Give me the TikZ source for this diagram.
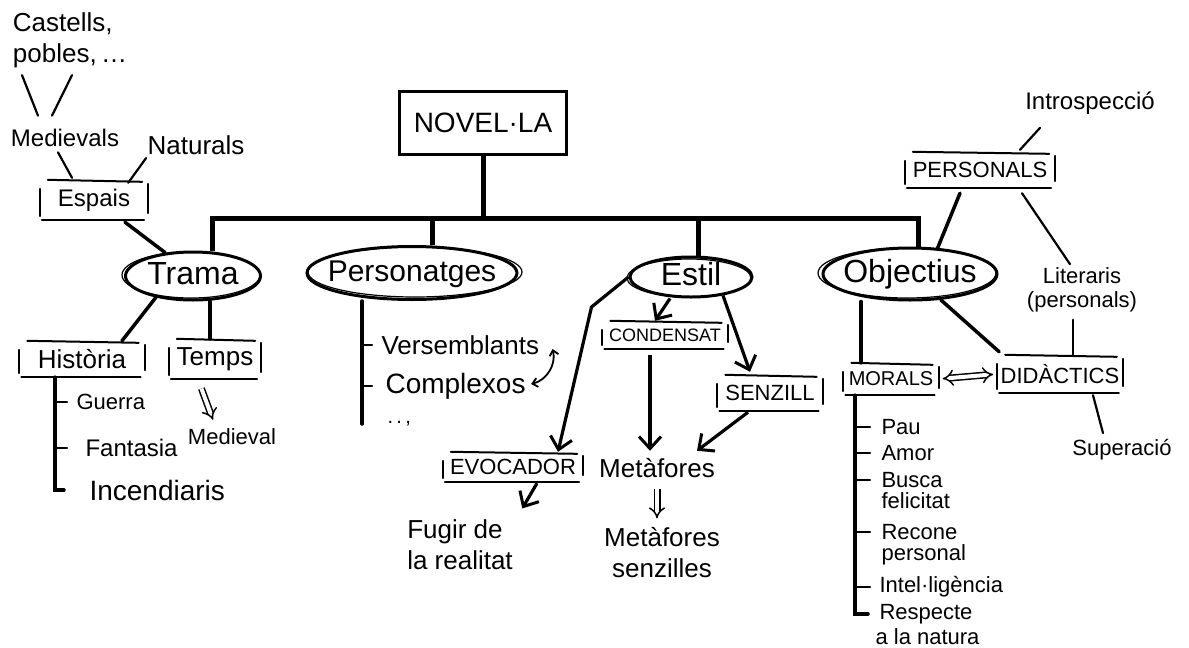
\documentclass[tikz,border=0pt]{standalone}
\usepackage{fontspec}
\setmainfont{Liberation Sans}
\usetikzlibrary{shapes.geometric,arrows.meta}
\pgfdeclarelayer{bg}
\pgfsetlayers{bg,main}
\newcommand\obox[1]{%
  \draw[boxline] ([shift={(8,0)}]#1.north west) -- ([shift={(-6,2)}]#1.north east);
  \draw[boxline] ([shift={(2,0)}]#1.south west) -- ([shift={(-4,0)}]#1.south east);
  \draw[boxline] ([shift={(0,9)}]#1.north west) -- ([shift={(0,-4)}]#1.south west);
  \draw[boxline] ([shift={(0,4)}]#1.north east) -- ([shift={(0,-7)}]#1.south east);}
\begin{document}
\begin{tikzpicture}[x=1pt,y=-1pt,
  f18/.style={font=\fontsize{18}{21}\selectfont},
  f20/.style={font=\fontsize{20}{23}\selectfont},
  f22/.style={font=\fontsize{22}{24}\selectfont},
  f24/.style={font=\fontsize{24}{29}\selectfont},
  f26/.style={font=\fontsize{26}{31}\selectfont},
  f28/.style={font=\fontsize{28}{32}\selectfont},
  f32/.style={font=\fontsize{32}{36}\selectfont, text height=23pt, text depth=6pt, inner sep=0pt},
  ell/.style={ellipse, draw, line width=3pt, fill=white, inner sep=0pt},
  sk/.style={line width=1.2pt},
  boxline/.style={line width=2pt, line cap=round},
  conn/.style={line width=2.2pt, line cap=round},
  thk/.style={line width=3.5pt, line cap=round},
  bar/.style={line width=5pt},
  arr/.style={line width=3.2pt, -{Straight Barb[length=12pt,width=22pt,line width=3pt]}},
  dbl/.style={double, double distance=4pt, line width=1.5pt, -{Implies}},
  dbl2/.style={double, double distance=4pt, line width=1.5pt, {Implies}-{Implies}}]
\useasboundingbox (0,0) rectangle (1189,648);

% ---------- top and ellipses ----------
\node[draw, line width=3.5pt, f28, minimum width=167pt, minimum height=63pt] (nov) at (483,123) {NOVEL·LA};
\node[ell, minimum width=135pt, minimum height=48pt] (trama) at (193,276) {};
\node[ell, minimum width=210pt, minimum height=53pt] (pers) at (412,273) {};
\node[ell, minimum width=122pt, minimum height=40pt] (estil) at (691,277) {};
\node[ell, minimum width=174pt, minimum height=52pt] (obj) at (910,274) {};
\draw[sk] ([shift={(-2,-1)}]trama.center) ellipse [x radius=69pt, y radius=23pt];
\draw[sk] ([shift={(3,-1)}]pers.center) ellipse [x radius=107pt, y radius=25pt];
\draw[sk] ([shift={(-2,1)}]estil.center) ellipse [x radius=62pt, y radius=19pt];
\draw[sk] ([shift={(-3,-1)}]obj.center) ellipse [x radius=89pt, y radius=25pt];
\node[f32] (tramat) at (trama) {Trama};
\node[f32, font=\fontsize{30}{34}\selectfont] (perst) at (pers) {Personatges};
\node[f32] (estilt) at (estil) {Estil};
\node[f32] (objt) at (obj) {Objectius};

% ---------- Trama branch ----------
\node[f26, align=left] (cast) at (70,40) {Castells,\\pobles,\,\ldots};
\node[f24] (med) at (65,138) {Medievals};
\node[f26] (nat) at (196,145) {Naturals};
\node[f24, minimum width=108pt, minimum height=40pt] (esp) at (94,200) {Espais};
\obox{esp}
\node[f26, minimum width=125pt, minimum height=36pt] (hist) at (82,359) {Història};
\obox{hist}
\node[f26, minimum width=92pt, minimum height=40pt] (temps) at (215,359) {Temps};
\obox{temps}
\node[f22, anchor=west] (guer) at (73,402) {Guerra};
\node[f24, anchor=west] (fant) at (82,448) {Fantasia};
\node[f28, anchor=west] (inc) at (86,490) {Incendiaris};
\node[f22] (medv) at (232,437) {Medieval};

% ---------- Personatges branch ----------
\node[f26, anchor=west] (vers) at (378,345) {Versemblants};
\node[f28, anchor=west] (comp) at (382,386) {Complexos};
\node[f20, anchor=west] (dots) at (384,424) {.\,.\,,};

% ---------- Estil branch ----------
\node[f18, minimum width=125pt, minimum height=28pt] (cond) at (665,335) {CONDENSAT};
\obox{cond}
\node[f22, minimum width=105pt, minimum height=36pt] (senz) at (770,393) {SENZILL};
\obox{senz}
\node[f22, minimum width=140pt, minimum height=30pt] (evoc) at (513,467) {EVOCADOR};
\obox{evoc}
\node[f26] (meta) at (657,468) {Metàfores};
\node[f26, align=left] (fug) at (460,545) {Fugir de\\la realitat};
\node[f26, align=center] (metas) at (662,553) {Metàfores\\senzilles};

% ---------- Objectius branch ----------
\node[f22, minimum width=150pt, minimum height=36pt] (persl) at (980,170) {PERSONALS};
\obox{persl}
\node[f24] (intro) at (1090,103) {Introspecció};
\node[f22, align=center] (lit) at (1082,290) {Literaris\\(personals)};
\node[f20, minimum width=95pt, minimum height=32pt] (mor) at (891,379) {MORALS};
\obox{mor}
\node[f22, minimum width=125pt, minimum height=38pt] (did) at (1060,374) {DIDÀCTICS};
\obox{did}
\node[f22] (sup) at (1122,450) {Superació};
\node[f22, anchor=west] (pau) at (878,427) {Pau};
\node[f22, anchor=west] (amor) at (878,453) {Amor};
\node[f22, anchor=west] (bus1) at (878,480) {Busca};
\node[f22, anchor=west] (bus2) at (878,501) {felicitat};
\node[f22, anchor=west] (rec1) at (878,532) {Recone};
\node[f22, anchor=west] (rec2) at (878,555) {personal};
\node[f22, anchor=west] (intel) at (876,587) {Intel·ligència};
\node[f22, anchor=west] (res1) at (876,614) {Respecte};
\node[f22, anchor=west] (res2) at (872,637) {a la natura};

% ---------- connectors ----------
\begin{pgfonlayer}{bg}
\draw[bar] (212,0 |- trama.north) -- (212,218) coordinate (barL) -- (918,218) coordinate (barR) -- (barR |- obj.north);
\draw[bar] (nov.south) -- (nov.south |- barL);
\draw[bar] ([xshift=20pt]pers.north |- barL) -- ([xshift=20pt]pers.north);
\draw[bar] ([xshift=7pt]estil.north |- barL) -- ([xshift=7pt]estil.north);

\draw[conn] ([shift={(-48,4)}]cast.south) -- ([shift={(-27,-10)}]med.north);
\draw[conn] ([shift={(2,4)}]cast.south) -- ([shift={(-13,-10)}]med.north);
\draw[conn] ([shift={(-7,2)}]med.south) -- ([shift={(-22,-2)}]esp.north);
\draw[conn] ([shift={(2,0)}]nat.south west) -- ([shift={(-20,3)}]esp.north east);
\draw[thk] ([shift={(31,2)}]esp.south) -- (trama.140);

\draw[thk] (trama.210) -- ([xshift=40pt]hist.north);
\draw[thk] ([xshift=-5pt]temps.north |- trama.south) -- ([xshift=-5pt]temps.north);
\draw[thk] ([xshift=-27pt]hist.south) |- ([xshift=-22pt]inc.west);
\draw[conn] ([xshift=-27pt]hist.south |- guer.west) -- ([xshift=-6pt]guer.west);
\draw[conn] ([xshift=-27pt]hist.south |- fant.west) -- ([xshift=-15pt]fant.west);
\draw[dbl, shorten <=10pt, shorten >=6pt] ([xshift=-17pt]temps.south) -- ([xshift=-17pt]medv.north);

\draw[thk] ([xshift=-50pt]pers.south) -- ([xshift=-50pt]pers.south |- dots.west);
\draw[conn] ([xshift=-50pt]pers.south |- vers.west) -- ([xshift=-6pt]vers.west);
\draw[conn] ([xshift=-50pt]pers.south |- comp.west) -- ([xshift=-10pt]comp.west);
\draw[line width=1.8pt, {Straight Barb[length=5pt,width=9pt]}-{Straight Barb[length=5pt,width=9pt]}]
  ([shift={(10,4)}]vers.east) to[bend left=45] ([shift={(2,-2)}]comp.east);

\draw[arr] (estil.west) -- ++(-37,30) -- ([xshift=45pt]evoc.north);
\draw[arr] ([xshift=-21pt]estil.south) -- ([xshift=-10pt]cond.north);
\draw[arr] (estil.330) -- ([shift={(-20,-3)}]senz.north);
\draw[arr] ([shift={(-15,6)}]cond.south) -- ([shift={(-7,-4)}]meta.north);
\draw[arr] ([shift={(-22,1)}]senz.south) -- ([shift={(40,-4)}]meta.north);
\draw[arr] ([shift={(24,1)}]evoc.south) -- ([shift={(6,-8)}]fug.north east);
\draw[dbl, shorten <=8pt, shorten >=6pt] (meta.south) -- (meta.south |- metas.north);

\draw[conn] ([shift={(-50,10)}]intro.south) -- ([shift={(40,-2)}]persl.north);
\draw[thk] ([shift={(-20,5)}]persl.south) -- ([shift={(27,3)}]obj.north);
\draw[conn] ([shift={(42,5)}]persl.south) -- ([shift={(-12,0)}]lit.north);
\draw[conn] ([shift={(-9,4)}]lit.south) -- ([shift={(13,0)}]did.north);
\draw[thk] ([xshift=-30pt]mor.north |- obj.south) -- ([xshift=-30pt]mor.north);
\draw[thk] (obj.320) -- ([shift={(2,-3)}]did.north west);
\draw[dbl2, shorten <=4pt, shorten >=4pt] (mor.east) -- (did.west);
\draw[conn] ([shift={(33,2)}]did.south) -- ([shift={(-19,-3)}]sup.north);
\draw[thk] ([xshift=-36pt]mor.south) |- ([xshift=-8pt]res1.west);
\draw[conn] ([xshift=-36pt]mor.south |- pau.west) -- ([xshift=-8pt]pau.west);
\draw[conn] ([xshift=-36pt]mor.south |- amor.west) -- ([xshift=-8pt]amor.west);
\draw[conn] ([xshift=-36pt]mor.south |- bus1.west) -- ([xshift=-8pt]bus1.west);
\draw[conn] ([xshift=-36pt]mor.south |- rec1.west) -- ([xshift=-8pt]rec1.west);
\draw[conn] ([xshift=-36pt]mor.south |- intel.west) -- ([xshift=-6pt]intel.west);
\end{pgfonlayer}
\end{tikzpicture}
\end{document}
